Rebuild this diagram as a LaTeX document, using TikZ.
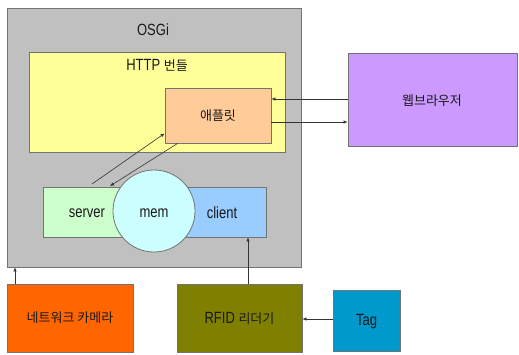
\documentclass[tikz,border=0pt]{standalone}
\usepackage{fontspec}
\usepackage{graphicx}
\setmainfont{Liberation Sans}
\newfontfamily\kr{Noto Sans CJK KR}
\usetikzlibrary{arrows.meta}
\newcommand\tallt[1]{\scalebox{1}[1.25]{#1}}
\definecolor{osgigray}{HTML}{C0C0C0}
\definecolor{httpyellow}{HTML}{FFFF99}
\definecolor{appletorange}{HTML}{FFCC99}
\definecolor{browserpurple}{HTML}{CC99FF}
\definecolor{servergreen}{HTML}{CCFFCC}
\definecolor{memcyan}{HTML}{CCFFFF}
\definecolor{clientblue}{HTML}{99CCFF}
\definecolor{cameraorange}{HTML}{FF6600}
\definecolor{rfidolive}{HTML}{808000}
\definecolor{tagblue}{HTML}{0099CC}
\tikzset{
  box/.style={rectangle, draw=black!55, line width=0.8pt, inner sep=0pt},
  lbl/.style={font=\fontsize{13}{15}\selectfont, text=black!90, inner sep=0pt},
  arr/.style={draw=black!80, line width=0.6pt, -{Latex[length=4pt,width=3.5pt]}},
}
\begin{document}
\begin{tikzpicture}[x=1pt,y=-1pt]
\useasboundingbox[fill=white] (0,0) rectangle (519,354);
\node[box, fill=osgigray, minimum width=294pt, minimum height=259pt] (osgi) at (154,137.5) {};
\node[lbl] (osgilbl) at (153,30) {\tallt{OSGi}};
\node[box, fill=httpyellow, minimum width=256pt, minimum height=100pt] (http) at (157,102) {};
\node[lbl] (httplbl) at (157,65) {\tallt{HTTP} {\kr 번들}};
\node[box, fill=appletorange, minimum width=106pt, minimum height=55pt] (applet) at (218,115.5) {};
\node[lbl] (appletlbl) at (218,115.5) {\kr 애플릿};
\node[box, fill=browserpurple, minimum width=169pt, minimum height=93pt] (browser) at (432.5,99.5) {};
\node[lbl] (browserlbl) at (432,101) {\kr 웹브라우저};
\node[box, fill=servergreen, minimum width=79pt, minimum height=50pt] (server) at (82.5,212) {};
\node[box, fill=clientblue, minimum width=80pt, minimum height=50pt] (client) at (226,212) {};
\node[lbl] (serverlbl) at (87,213) {\tallt{server}};
\node[lbl] (clientlbl) at (222,213) {\tallt{client}};
\node[circle, draw=black!55, line width=0.8pt, fill=memcyan, minimum size=82pt, inner sep=0pt] (mem) at (154,211) {};
\node[lbl] (memlbl) at (154,213) {\tallt{mem}};
\node[box, fill=cameraorange, minimum width=126pt, minimum height=68pt] (camera) at (70,318) {};
\node[lbl] (cameralbl) at (70,318) {\kr 네트워크 카메라};
\node[box, fill=rfidolive, minimum width=125pt, minimum height=68pt] (rfid) at (239.5,318) {};
\node[lbl] (rfidlbl) at (239.5,318) {\tallt{RFID} {\kr 리더기}};
\node[box, fill=tagblue, minimum width=67pt, minimum height=61pt] (tag) at (366.5,320.5) {};
\node[lbl] (taglbl) at (366.5,322) {\tallt{Tag}};
% connectors
\draw[arr] ([yshift=0.5pt]browser.west) -- ([yshift=0.5pt]browser.west -| applet.east);
\draw[arr] ([yshift=-6.5pt]applet.east) -- ([yshift=-6.5pt]applet.east -| browser.west);
\coordinate (srvout) at (92,184);
\coordinate (srvin) at (110,186);
\draw[arr] (srvout) -- ([yshift=10pt]applet.south west);
\draw[arr] ([xshift=13pt]applet.south west) -- (srvin);
\draw[arr] ([xshift=-55pt]camera.north) -- ([xshift=-55pt]camera.north |- osgi.south);
\draw[arr] ([xshift=8.5pt]rfid.north) -- ([xshift=8.5pt]rfid.north |- client.south);
\draw[arr] ([yshift=1.5pt]tag.west) -- ([yshift=1.5pt]tag.west -| rfid.east);
\end{tikzpicture}
\end{document}
